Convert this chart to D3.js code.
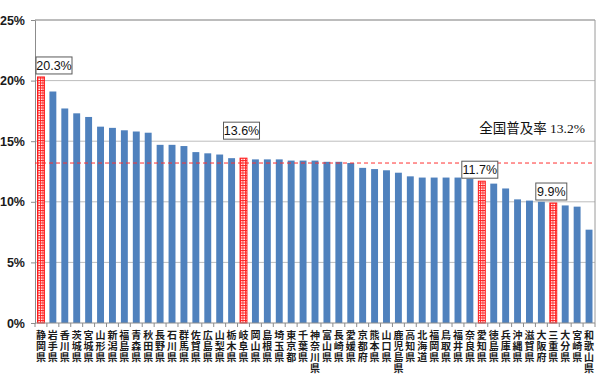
<!DOCTYPE html>
<html>
<head>
<meta charset="UTF-8">
<title>全国普及率</title>
<script src="https://d3js.org/d3.v7.min.js"></script>
<style>
body { margin: 0; background: #fff; }
svg { display: block; }
.vlab { writing-mode: vertical-rl; text-orientation: upright; }
</style>
</head>
<body>
<svg id="chart" width="600" height="386"></svg>
<script>
var prefs = ["静岡県","岩手県","香川県","茨城県","宮城県","山形県","新潟県","福島県","青森県","秋田県",
  "長野県","石川県","群馬県","佐賀県","広島県","山梨県","栃木県","岐阜県","岡山県","島根県",
  "埼玉県","東京都","千葉県","神奈川県","富山県","長崎県","愛媛県","京都府","熊本県","山口県",
  "鹿児島県","高知県","北海道","福岡県","鳥取県","福井県","奈良県","愛知県","徳島県","兵庫県",
  "沖縄県","滋賀県","大阪府","三重県","大分県","宮崎県","和歌山県"];
var rates = [20.3,19.1,17.7,17.3,17.0,16.2,16.1,15.9,15.8,15.7,
  14.7,14.7,14.6,14.1,14.0,13.9,13.6,13.6,13.5,13.5,
  13.5,13.4,13.4,13.4,13.3,13.3,13.2,12.8,12.7,12.6,
  12.4,12.1,12.0,12.0,12.0,12.0,11.9,11.7,11.5,11.1,
  10.2,10.1,10.0,9.9,9.7,9.6,7.7];
var highlight = ["静岡県","岐阜県","愛知県","三重県"];
var nationalRate = 13.2;
var yTicks = [0,5,10,15,20,25];

var svg = d3.select("#chart");
var plotL = 35, plotR = 595, plotT = 20, plotB = 323;

var x = d3.scaleBand().domain(prefs).range([plotL, plotR]).paddingInner(0.42).paddingOuter(0.21);
var y = d3.scaleLinear().domain([0,25]).range([plotB, plotT]);

// hatch for highlighted prefectures
var defs = svg.append("defs");
var pat = defs.append("pattern").attr("id","hatch").attr("patternUnits","userSpaceOnUse")
  .attr("width",2.5).attr("height",2.5);
pat.append("rect").attr("width",2.5).attr("height",2.5).attr("fill","#fff");
pat.append("path").attr("d","M0,0.5H2.5M0.5,0V2.5").attr("stroke","#ff2020").attr("stroke-width",0.9);

// gridlines
svg.append("g").selectAll("line").data(yTicks.slice(1)).join("line")
  .attr("x1", plotL).attr("x2", plotR)
  .attr("y1", d => y(d)).attr("y2", d => y(d))
  .attr("stroke", "#bdbdbd").attr("stroke-width", 1);

// frame right edge
svg.append("line").attr("x1", plotR).attr("x2", plotR).attr("y1", plotT).attr("y2", plotB)
  .attr("stroke", "#9a9a9a");

// y axis
var yAxis = svg.append("g").attr("transform", "translate(" + plotL + ",0)")
  .call(d3.axisLeft(y).tickValues(yTicks).tickSize(4).tickFormat(d => d + "%"));
yAxis.select(".domain").attr("stroke", "#8c8c8c");
yAxis.selectAll(".tick line").attr("stroke", "#8c8c8c");
yAxis.selectAll("text").attr("font-family", "Liberation Sans, Arial, sans-serif")
  .attr("font-size", 12.5).attr("font-weight", "bold").attr("fill", "#1a1a1a").attr("dx", -3);

// bars
svg.append("g").selectAll("rect").data(prefs).join("rect")
  .attr("x", d => x(d))
  .attr("width", x.bandwidth())
  .attr("y", (d, i) => y(rates[i]))
  .attr("height", (d, i) => y(0) - y(rates[i]))
  .attr("fill", d => highlight.includes(d) ? "url(#hatch)" : "#4f81bd")
  .attr("stroke", d => highlight.includes(d) ? "#ff1a1a" : "none")
  .attr("stroke-width", 1);

// x axis line and ticks between categories
svg.append("line").attr("x1", plotL).attr("x2", plotR).attr("y1", plotB).attr("y2", plotB)
  .attr("stroke", "#8c8c8c");
svg.append("g").selectAll("line").data(d3.range(prefs.length + 1)).join("line")
  .attr("x1", i => plotL + i * (plotR - plotL) / prefs.length)
  .attr("x2", i => plotL + i * (plotR - plotL) / prefs.length)
  .attr("y1", plotB).attr("y2", plotB + 4)
  .attr("stroke", "#8c8c8c");

// vertical category labels (one text each, stacked top to bottom)
svg.append("g").selectAll("text").data(prefs).join("text")
  .attr("class", "vlab")
  .attr("x", d => x(d) + x.bandwidth() / 2)
  .attr("y", 330)
  .attr("font-family", "Noto Sans CJK JP, sans-serif")
  .attr("font-size", 10).attr("font-weight", "bold").attr("fill", "#1a1a1a")
  .attr("letter-spacing", 1)
  .text(d => d);

// national average line
svg.append("line").attr("x1", plotL).attr("x2", plotR)
  .attr("y1", y(nationalRate)).attr("y2", y(nationalRate))
  .attr("stroke", "#ff3030").attr("stroke-width", 1).attr("stroke-dasharray", "4,3");
svg.append("text").attr("x", 585).attr("y", 133).attr("text-anchor", "end")
  .attr("font-family", "Liberation Serif, Noto Sans CJK JP, serif")
  .attr("font-size", 13.5).attr("fill", "#111")
  .text("全国普及率 " + nationalRate + "%");

// boxed labels for highlighted prefectures
var lift = {"岐阜県": 16};
highlight.forEach(function(p) {
  var i = prefs.indexOf(p);
  var txt = rates[i].toFixed(1) + "%";
  var w = txt.length > 4 ? 36 : 31, h = 17;
  var cx = x(p) + x.bandwidth() / 2;
  var bx = Math.max(plotL + 1, cx - w / 2 - 2);
  var by = y(rates[i]) - 3 - (lift[p] || 0) - h;
  var g = svg.append("g");
  g.append("rect").attr("x", bx).attr("y", by).attr("width", w).attr("height", h)
    .attr("fill", "#fff").attr("stroke", "#5a5a5a").attr("stroke-width", 1);
  g.append("text").attr("x", bx + w / 2).attr("y", by + h / 2 + 4.5).attr("text-anchor", "middle")
    .attr("font-family", "Liberation Sans, Arial, sans-serif").attr("font-size", 12.5)
    .attr("fill", "#111").text(txt);
});

// top frame
svg.append("line").attr("x1", plotL).attr("x2", plotR).attr("y1", plotT).attr("y2", plotT)
  .attr("stroke", "#9a9a9a");
</script>
</body>
</html>
